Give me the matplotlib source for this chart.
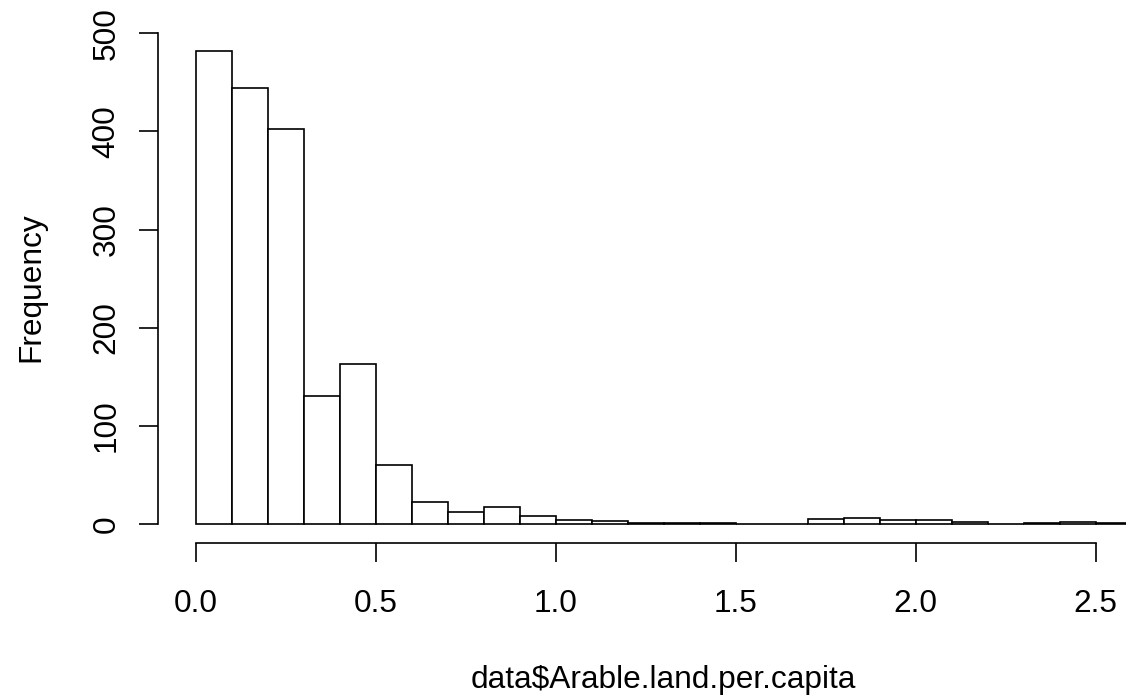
import numpy as np
import matplotlib
matplotlib.use("Agg")
import matplotlib.pyplot as plt

# ------------------------------- DATA ------------------------------- #
bin_width = 0.1
bin_left = np.round(np.arange(0.0, 2.6, bin_width), 2)
counts = [482, 444, 402, 131, 163, 60, 23, 13, 18, 8, 4, 3, 1, 1, 1,
          0, 0, 5, 6, 4, 4, 2, 0, 1, 2, 1]
x_ticks = [0.0, 0.5, 1.0, 1.5, 2.0, 2.5]
x_ticklabels = ["0.0", "0.5", "1.0", "1.5", "2.0", "2.5"]
y_ticks = [0, 100, 200, 300, 400, 500]
x_label = "data$Arable.land.per.capita"
y_label = "Frequency"

# ------------------------------- STYLE ------------------------------ #
plt.rcParams['font.family'] = ['Liberation Sans', 'DejaVu Sans']
fs = 22.8
lw = 1.2
W, H = 1126, 700

fig = plt.figure(figsize=(W / 100, H / 100), dpi=100)
# plot region in pixels (R style: axes span -4% .. +104% of data range)
left_px, right_px = 158.3, 1169.1
top_px, bottom_px = 32.0, 543.2
ax = fig.add_axes((left_px / W, 1 - bottom_px / H,
                   (right_px - left_px) / W, (bottom_px - top_px) / H))

ax.bar(bin_left, counts, width=bin_width, align='edge',
       facecolor='white', edgecolor='black', linewidth=lw)

ymax = max(counts)
ax.set_xlim(-0.04 * 2.6, 2.6 * 1.04)
ax.set_ylim(-0.04 * ymax, ymax * 1.04)

for s in ['top', 'right']:
    ax.spines[s].set_visible(False)
ax.spines['left'].set_bounds(0, 500)
ax.spines['bottom'].set_bounds(0, 2.5)
ax.spines['left'].set_linewidth(lw)
ax.spines['bottom'].set_linewidth(lw)

ax.set_xticks(x_ticks)
ax.set_xticklabels(x_ticklabels)
ax.set_yticks(y_ticks)
ax.set_yticklabels([str(v) for v in y_ticks], rotation=90, va='center')
ax.tick_params(axis='both', length=13.9, width=lw, labelsize=fs, color='black')
ax.tick_params(axis='x', pad=19.0)
ax.tick_params(axis='y', pad=12.5)

fig.text(663.7 / W, 1 - 688 / H, x_label, fontsize=fs,
         ha='center', va='baseline')
fig.text(39 / W, 1 - 287.6 / H, y_label, fontsize=fs, rotation=90,
         rotation_mode='anchor', ha='center', va='baseline')

fig.savefig("out.png", dpi=100, facecolor='white')
plt.close(fig)
